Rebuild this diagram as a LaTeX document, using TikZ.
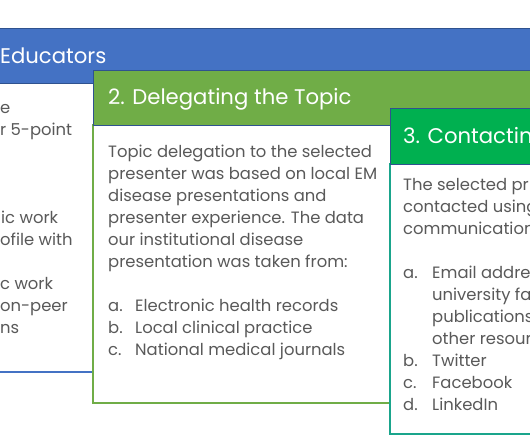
\documentclass[tikz,border=0pt]{standalone}
\usepackage{fontspec}
\setmainfont{Poppins}
\definecolor{hblue}{HTML}{4472C4}
\definecolor{hgreen}{HTML}{70AD47}
\definecolor{hgreen3}{HTML}{00B050}
\definecolor{teal3}{HTML}{1AA58C}
\definecolor{outl}{HTML}{2F528F}
\definecolor{txt}{HTML}{595959}
\tikzset{
  hdr/.style={line width=1pt, draw=outl},
  bodybox/.style={line width=1.5pt, fill=white},
  htext/.style={text=white, font=\fontsize{21.2}{26}\selectfont, inner sep=0pt, anchor=base west},
  btext/.style={text=txt, font=\fontsize{16.4}{22}\selectfont, inner sep=0pt, anchor=base west},
}
\begin{document}
\begin{tikzpicture}[x=1pt,y=-1pt]
\useasboundingbox (0,0) rectangle (530,442);
\clip (0,0) rectangle (530,442);
% box 1
\draw[bodybox, draw=hblue] (-20,83) rectangle (560,372);
\fill[hblue] (-20,28) rectangle (560,83);
\draw[hdr] (-20,28) rectangle (560,83);
\node[htext] (h1) at (0,63) {Educators};
\node[btext] (f1) at (0,113) {e};
\node[btext] (f2) at (0,135) {r 5-point};
\node[btext] (f3) at (1,223) {ic work};
\node[btext] (f4) at (0,245) {ofile with};
\node[btext] (f5) at (0,289) {c work};
\node[btext] (f6) at (0,311) {on-peer};
\node[btext] (f7) at (0,333) {ns};
% box 2
\draw[bodybox, draw=hgreen] (93,125) rectangle (560,403);
\fill[hgreen] (93,70) rectangle (560,125);
\draw[hdr] (93,70) rectangle (560,125);
\node[htext] (h2) at (108,104) {2. Delegating the Topic};
\node[btext] (t2a) at (108,157.5) {Topic delegation to the selected};
\node[btext] (t2b) at (108,179.5) {presenter was based on local EM};
\node[btext] (t2c) at (108,201.5) {disease presentations and};
\node[btext] (t2d) at (108,223.5) {presenter experience. The data};
\node[btext] (t2e) at (108,245.5) {our institutional disease};
\node[btext] (t2f) at (108,267.5) {presentation was taken from:};
\node[btext] (l2a) at (108,311.5) {a.};
\node[btext] (l2at) at (135,311.5) {Electronic health records};
\node[btext] (l2b) at (108,333.5) {b.};
\node[btext] (l2bt) at (135,333.5) {Local clinical practice};
\node[btext] (l2c) at (108,355.5) {c.};
\node[btext] (l2ct) at (135,355.5) {National medical journals};
% box 3
\draw[bodybox, draw=teal3] (390,164) rectangle (560,434);
\fill[hgreen3] (390,108) rectangle (560,164);
\draw[hdr] (390,108) rectangle (560,164);
\node[htext] (h3) at (403,143) {3. Contacting};
\node[btext] (t3a) at (403,190) {The selected pr};
\node[btext] (t3b) at (403,212) {contacted using};
\node[btext] (t3c) at (403,234) {communication};
\node[btext] (l3a) at (403,278) {a.};
\node[btext] (l3at) at (432,278) {Email addre};
\node[btext] (l3a2) at (432,300) {university fa};
\node[btext] (l3a3) at (432,322) {publications};
\node[btext] (l3a4) at (432,344) {other resour};
\node[btext] (l3b) at (403,366) {b.};
\node[btext] (l3bt) at (432,366) {Twitter};
\node[btext] (l3c) at (403,388) {c.};
\node[btext] (l3ct) at (432,388) {Facebook};
\node[btext] (l3d) at (403,410) {d.};
\node[btext] (l3dt) at (432,410) {LinkedIn};
\end{tikzpicture}
\end{document}
